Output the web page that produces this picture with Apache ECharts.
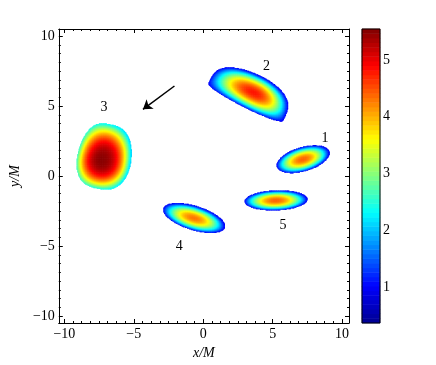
<!DOCTYPE html>
<html>
<head>
<meta charset="utf-8">
<script src="https://cdn.jsdelivr.net/npm/echarts@6/dist/echarts.min.js"></script>
<style>
html,body{margin:0;padding:0;background:#fff}
#main{width:436px;height:365px}
</style>
</head>
<body>
<div id="main"></div>
<script>
// axis limits
const xRange = [-10.4, 10.5];
const yRange = [-10.5, 10.5];
const cRange = [0.366, 5.546];
const cellStep = 0.05;

// the five regions
const blobCx     = [7.2, 3.3, -7.27, -0.65, 5.25];
const blobCy     = [1.2, 5.2, 1.14, -3.0, -1.74];
const blobAngle  = [16, -26.3, 78, -17, 2];        // degrees
const blobAL     = [1.95, 3.25, 2.05, 2.3, 2.25];   // half length, -u side
const blobAR     = [1.95, 2.75, 2.6, 2.3, 2.25];    // half length, +u side
const blobBU     = [0.85, 2.1, 1.8, 0.85, 0.7];     // half width, +w side
const blobBD     = [0.85, 0.4, 2.05, 0.85, 0.7];    // half width, -w side
const blobShapeU = [0.5, 0.3, 0.35, 0.5, 0.5];
const blobShapeD = [0.5, 0.45, 0.35, 0.5, 0.5];
const blobPeak   = [4.4, 4.8, 5.5, 4.3, 4.4];
const blobEdge   = [0.95, 1.0, 2.35, 0.95, 0.95];
const blobFall   = [2, 2, 2.5, 2, 2];
const blobTilt   = [0, 0, -0.13, 0, 0];

// labels next to the regions
const labelText = ['1', '2', '3', '4', '5'];
const labelX = [8.77, 4.56, -7.15, -1.72, 5.75];
const labelY = [2.69, 7.86, 4.91, -5.05, -3.5];

// arrow
const arrowFrom = [-2.07, 6.43];
const arrowTo = [-4.34, 4.76];

// jet colours
const jet = ['#000090', '#0000ff', '#0080ff', '#00ffff', '#80ff80',
             '#ffff00', '#ff8000', '#ff0000', '#800000'];
const cbLevels = 64;

function blobValue(k, x, y) {
    let a = blobAngle[k] * Math.PI / 180;
    let dx = x - blobCx[k], dy = y - blobCy[k];
    let u = dx * Math.cos(a) + dy * Math.sin(a);
    let w = -dx * Math.sin(a) + dy * Math.cos(a);
    let s = u < 0 ? u / blobAL[k] : u / blobAR[k];
    if (Math.abs(s) >= 1) return null;
    let q = 1 - s * s;
    let top = blobBU[k] * Math.pow(q, blobShapeU[k]);
    let bot = -blobBD[k] * Math.pow(q, blobShapeD[k]);
    let mid = (top + bot) / 2, half = (top - bot) / 2;
    let t = (w - mid) / half;
    if (Math.abs(t) > 1) return null;
    let r = Math.sqrt(s * s + q * t * t);
    return blobPeak[k] - (blobPeak[k] - blobEdge[k]) * Math.pow(r, blobFall[k]) + blobTilt[k] * dx;
}

const nx = Math.round((xRange[1] - xRange[0]) / cellStep);
const ny = Math.round((yRange[1] - yRange[0]) / cellStep);
const xCats = [], yCats = [];
for (let i = 0; i < nx; i++) xCats.push(String(i));
for (let j = 0; j < ny; j++) yCats.push(String(j));

const fieldData = [];
for (let i = 0; i < nx; i++) {
    let x = xRange[0] + (i + 0.5) * cellStep;
    for (let j = 0; j < ny; j++) {
        let y = yRange[0] + (j + 0.5) * cellStep;
        let best = null;
        for (let k = 0; k < blobCx.length; k++) {
            let v = blobValue(k, x, y);
            if (v !== null && (best === null || v > best)) best = v;
        }
        if (best !== null) fieldData.push([i, j, best]);
    }
}

const cbCats = [], cbData = [];
for (let i = 0; i < cbLevels; i++) {
    cbCats.push(String(i));
    cbData.push([0, i, cRange[0] + (i + 0.5) * (cRange[1] - cRange[0]) / cbLevels]);
}

const labelData = [];
for (let i = 0; i < labelText.length; i++) {
    labelData.push({ name: labelText[i], value: [labelX[i], labelY[i]] });
}

const font = 'Liberation Serif';
const minus = v => String(v).replace('-', '\u2212');
const tickStyle = { inside: true, length: 4, lineStyle: { color: '#000', width: 1 } };
const minorStyle = { show: true, splitNumber: 8, length: 2, lineStyle: { color: '#000', width: 1 } };
const lineStyle = { show: true, onZero: false, lineStyle: { color: '#000', width: 1 } };
const labelStyle = { fontFamily: font, fontSize: 14, color: '#000', formatter: minus,
                     showMinLabel: false, showMaxLabel: false };

var chart = echarts.init(document.getElementById('main'));
chart.setOption({
    animation: false,
    backgroundColor: '#fff',
    grid: [
        { left: 57, top: 29, width: 292, height: 294 },
        { left: 362, top: 29, width: 18, height: 294, show: true, z: 5,
          borderColor: '#000', borderWidth: 1, backgroundColor: 'transparent' }
    ],
    xAxis: [
        { type: 'value', gridIndex: 0, position: 'bottom', min: xRange[0], max: xRange[1],
          axisLine: lineStyle, axisTick: tickStyle, minorTick: minorStyle,
          splitLine: { show: false },
          axisLabel: Object.assign({ margin: 4 }, labelStyle),
          name: 'x/M', nameLocation: 'middle', nameGap: 22,
          nameTextStyle: { fontFamily: font, fontSize: 14, fontStyle: 'italic', color: '#000' } },
        { type: 'value', gridIndex: 0, position: 'top', min: xRange[0], max: xRange[1],
          axisLine: lineStyle, axisTick: tickStyle, minorTick: minorStyle,
          splitLine: { show: false }, axisLabel: { show: false } },
        { type: 'category', gridIndex: 0, data: xCats, show: false },
        { type: 'category', gridIndex: 1, data: ['c'], show: false }
    ],
    yAxis: [
        { type: 'value', gridIndex: 0, position: 'left', min: yRange[0], max: yRange[1],
          axisLine: lineStyle, axisTick: tickStyle, minorTick: minorStyle,
          splitLine: { show: false },
          axisLabel: Object.assign({ margin: 4 }, labelStyle),
          name: 'y/M', nameLocation: 'middle', nameGap: 36,
          nameTextStyle: { fontFamily: font, fontSize: 14, fontStyle: 'italic', color: '#000' } },
        { type: 'value', gridIndex: 0, position: 'right', min: yRange[0], max: yRange[1],
          axisLine: lineStyle, axisTick: tickStyle, minorTick: minorStyle,
          splitLine: { show: false }, axisLabel: { show: false } },
        { type: 'category', gridIndex: 0, data: yCats, show: false },
        { type: 'category', gridIndex: 1, data: cbCats, show: false },
        { type: 'value', gridIndex: 1, position: 'left', min: cRange[0], max: cRange[1],
          axisLine: { show: false }, axisTick: { inside: true, length: 3, lineStyle: { color: '#000' } },
          splitLine: { show: false }, axisLabel: { show: false } },
        { type: 'value', gridIndex: 1, position: 'right', min: cRange[0], max: cRange[1],
          axisLine: { show: false }, axisTick: { inside: true, length: 3, lineStyle: { color: '#000' } },
          splitLine: { show: false },
          axisLabel: Object.assign({ margin: 3 }, labelStyle) }
    ],
    visualMap: {
        type: 'continuous', show: false, seriesIndex: [0, 1], dimension: 2,
        min: cRange[0], max: cRange[1],
        inRange: { color: jet }
    },
    series: [
        { type: 'heatmap', xAxisIndex: 2, yAxisIndex: 2, data: fieldData,
          progressive: 0, silent: true, emphasis: { disabled: true } },
        { type: 'heatmap', xAxisIndex: 3, yAxisIndex: 3, data: cbData,
          progressive: 0, silent: true, emphasis: { disabled: true } },
        { type: 'scatter', xAxisIndex: 0, yAxisIndex: 0, data: labelData, symbolSize: 0,
          silent: true, itemStyle: { opacity: 1 },
          label: { show: true, position: 'inside', formatter: '{b}', opacity: 1,
                   fontFamily: font, fontSize: 14, color: '#000' } },
        { type: 'lines', coordinateSystem: 'cartesian2d', xAxisIndex: 0, yAxisIndex: 0,
          data: [{ coords: [arrowFrom, arrowTo] }], silent: true,
          symbol: ['none', 'arrow'], symbolSize: 9,
          lineStyle: { color: '#000', width: 1.5, opacity: 1 } }
    ]
});
</script>
</body>
</html>
